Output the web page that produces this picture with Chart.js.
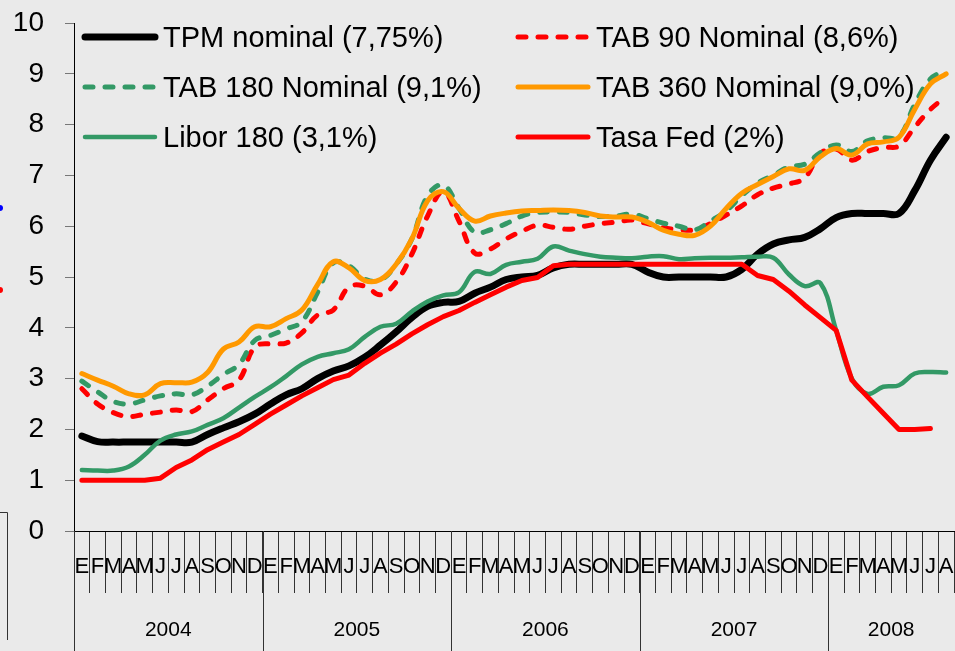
<!DOCTYPE html>
<html lang="es">
<head>
<meta charset="utf-8">
<title>Tasas de interés 2004-2008</title>
<script src="https://cdn.jsdelivr.net/npm/chart.js@4/dist/chart.umd.min.js"></script>
<style>
    html, body {
        margin: 0;
        padding: 0;
        background: #eaeaea;
    }
    .chart-wrap {
        position: relative;
        width: 955px;
        height: 651px;
    }
</style>
</head>
<body>
<div class="chart-wrap">
    <canvas id="ratesChart"></canvas>
</div>
<script>
const months = ['E', 'F', 'M', 'A', 'M', 'J', 'J', 'A', 'S', 'O', 'N', 'D'];
const years = ['2004', '2005', '2006', '2007', '2008'];
const monthsInYear = [12, 12, 12, 12, 8];
const yTicks = [0, 1, 2, 3, 4, 5, 6, 7, 8, 9, 10];

const tpm = [1.87, 1.76, 1.75, 1.75, 1.75, 1.75, 1.75, 1.75, 1.9, 2.03, 2.15, 2.3,
    2.5, 2.68, 2.8, 3.0, 3.15, 3.25, 3.42, 3.66, 3.92, 4.2, 4.42, 4.5,
    4.52, 4.68, 4.8, 4.95, 5.0, 5.03, 5.18, 5.25, 5.25, 5.25, 5.25, 5.25,
    5.1, 5.0, 5.0, 5.0, 5.0, 5.0, 5.15, 5.45, 5.65, 5.73, 5.78, 5.95,
    6.17, 6.25, 6.25, 6.25, 6.25, 6.7, 7.3, 7.75];
const tab90 = [2.8, 2.5, 2.33, 2.25, 2.3, 2.34, 2.38, 2.35, 2.58, 2.8, 2.97, 3.62,
    3.69, 3.7, 3.9, 4.25, 4.35, 4.8, 4.82, 4.65, 4.9, 5.45, 6.2, 6.68,
    6.1, 5.47, 5.55, 5.75, 5.9, 6.02, 5.98, 5.94, 6.0, 6.05, 6.08, 6.12,
    6.05, 5.97, 5.93, 5.93, 6.05, 6.22, 6.4, 6.62, 6.75, 6.83, 6.95, 7.43,
    7.52, 7.3, 7.47, 7.55, 7.58, 7.95, 8.3, 8.55];
const tab180 = [2.95, 2.74, 2.55, 2.5, 2.58, 2.66, 2.7, 2.68, 2.85, 3.08, 3.28, 3.75,
    3.85, 3.98, 4.12, 4.7, 5.28, 5.22, 4.96, 4.94, 5.25, 5.75, 6.6, 6.81,
    6.35, 5.88, 5.93, 6.05, 6.2, 6.27, 6.28, 6.27, 6.22, 6.19, 6.2, 6.24,
    6.15, 6.06, 6.0, 5.93, 6.1, 6.3, 6.6, 6.85, 7.0, 7.17, 7.22, 7.45,
    7.6, 7.47, 7.68, 7.74, 7.76, 8.4, 8.9, 9.07];
const tab360 = [3.1, 2.97, 2.85, 2.7, 2.68, 2.9, 2.92, 2.93, 3.12, 3.58, 3.72, 4.02,
    4.02, 4.18, 4.35, 4.85, 5.3, 5.18, 4.93, 4.95, 5.25, 5.75, 6.5, 6.68,
    6.35, 6.1, 6.2, 6.26, 6.3, 6.31, 6.32, 6.31, 6.27, 6.2, 6.18, 6.18,
    6.08, 5.92, 5.84, 5.82, 6.0, 6.35, 6.65, 6.82, 6.98, 7.13, 7.1, 7.37,
    7.53, 7.4, 7.62, 7.66, 7.75, 8.3, 8.8, 9.0];
const libor180 = [1.2, 1.19, 1.19, 1.27, 1.5, 1.78, 1.9, 1.96, 2.09, 2.22, 2.43, 2.64,
    2.83, 3.05, 3.28, 3.43, 3.5, 3.58, 3.82, 4.02, 4.08, 4.32, 4.52, 4.64,
    4.7, 5.1, 5.06, 5.24, 5.3, 5.36, 5.6, 5.52, 5.45, 5.4, 5.38, 5.37,
    5.4, 5.41, 5.35, 5.37, 5.38, 5.38, 5.39, 5.4, 5.38, 5.05, 4.82, 4.88,
    3.95, 3.0, 2.7, 2.84, 2.87, 3.1, 3.13, 3.12];
const fed = [1.0, 1.0, 1.0, 1.0, 1.0, 1.04, 1.25, 1.4, 1.6, 1.75, 1.9, 2.1,
    2.3, 2.48, 2.66, 2.82, 2.98, 3.07, 3.3, 3.5, 3.68, 3.88, 4.06, 4.22,
    4.34, 4.5, 4.65, 4.8, 4.93, 4.99, 5.22, 5.25, 5.25, 5.25, 5.25, 5.25,
    5.25, 5.25, 5.25, 5.25, 5.25, 5.25, 5.25, 5.03, 4.95, 4.72, 4.45, 4.2,
    3.95, 2.97, 2.64, 2.32, 2.0, 2.0, 2.02, null];

const monthLabels = [];
monthsInYear.forEach(count => {
    for (let m = 0; m < count; m++) monthLabels.push(months[m]);
});

const FONT = '"Liberation Sans", Arial, sans-serif';
const GREEN = '#339966';
const RED = '#ff0000';
const ORANGE = '#ff9900';

// legend drawn inside the plot, two columns like the original
const insideLegend = {
    id: 'insideLegend',
    afterDraw(chart) {
        const ctx = chart.ctx;
        const colX = [85, 518];
        ctx.save();
        ctx.font = '29px ' + FONT;
        ctx.textBaseline = 'middle';
        ctx.fillStyle = '#000';
        chart.data.datasets.forEach((ds, i) => {
            const x = colX[i % 2];
            const y = 37 + Math.floor(i / 2) * 50;
            ctx.strokeStyle = ds.borderColor;
            ctx.lineWidth = ds.borderWidth;
            ctx.lineCap = 'round';
            ctx.setLineDash(ds.borderDash || []);
            ctx.beginPath();
            ctx.moveTo(x, y);
            ctx.lineTo(x + 70, y);
            ctx.stroke();
            ctx.setLineDash([]);
            ctx.fillText(ds.label, x + 78, y + 2);
        });
        ctx.restore();
    }
};

// year row under the month letters
const yearAxis = {
    id: 'yearAxis',
    afterDraw(chart) {
        const ctx = chart.ctx;
        const xs = chart.scales.x;
        const w = xs.width / monthLabels.length;
        ctx.save();
        ctx.strokeStyle = '#333';
        ctx.lineWidth = 1;
        ctx.font = '21px ' + FONT;
        ctx.fillStyle = '#000';
        ctx.textAlign = 'center';
        ctx.textBaseline = 'middle';
        let start = 0;
        years.forEach((yr, i) => {
            const x = Math.round(xs.left + start * w) + 0.5;
            ctx.beginPath();
            ctx.moveTo(x, xs.top);
            ctx.lineTo(x, chart.height);
            ctx.stroke();
            ctx.fillText(yr, xs.left + (start + monthsInYear[i] / 2) * w, 630);
            start += monthsInYear[i];
        });
        ctx.restore();
    }
};

// bits of the neighbouring chart visible at the left edge
const leftEdge = {
    id: 'leftEdge',
    afterDraw(chart) {
        const ctx = chart.ctx;
        ctx.save();
        ctx.fillStyle = '#0000ff';
        ctx.beginPath();
        ctx.arc(0, 208, 3, 0, Math.PI * 2);
        ctx.fill();
        ctx.fillStyle = RED;
        ctx.beginPath();
        ctx.arc(0, 290, 3, 0, Math.PI * 2);
        ctx.fill();
        ctx.strokeStyle = '#333';
        ctx.lineWidth = 1;
        ctx.beginPath();
        ctx.moveTo(0, 512.5);
        ctx.lineTo(7.5, 512.5);
        ctx.lineTo(7.5, 640);
        ctx.stroke();
        ctx.restore();
    }
};

const line = (label, data, color, width, dash, order, tension) => ({
    label,
    data,
    borderColor: color,
    backgroundColor: color,
    borderWidth: width,
    borderDash: dash,
    borderCapStyle: 'round',
    borderJoinStyle: 'round',
    pointRadius: 0,
    tension,
    order,
    fill: false
});

const setupRatesChart = () => {
    const ctx = document.getElementById('ratesChart')?.getContext('2d');
    if (!ctx) return;

    new Chart(ctx, {
        type: 'line',
        data: {
            labels: monthLabels,
            datasets: [
                line('TPM nominal (7,75%)', tpm, '#000000', 7, [], 4, 0.4),
                line('TAB 90 Nominal (8,6%)', tab90, RED, 5, [8, 12], 5, 0.4),
                line('TAB 180 Nominal (9,1%)', tab180, GREEN, 5, [8, 12], 3, 0.4),
                line('TAB 360 Nominal (9,0%)', tab360, ORANGE, 5, [], 2, 0.4),
                line('Libor 180 (3,1%)', libor180, GREEN, 4.5, [], 1, 0.4),
                line('Tasa Fed (2%)', fed, RED, 5, [], 0, 0)
            ]
        },
        options: {
            responsive: true,
            maintainAspectRatio: false,
            animation: false,
            layout: {
                padding: { top: 23, right: 1, left: 0, bottom: 0 }
            },
            plugins: {
                legend: { display: false },
                tooltip: { enabled: false }
            },
            scales: {
                x: {
                    offset: true,
                    afterFit: scale => { scale.height = 120; },
                    grid: {
                        offset: true,
                        drawOnChartArea: false,
                        drawTicks: true,
                        tickLength: 62,
                        color: '#333'
                    },
                    border: { display: true, color: '#000' },
                    ticks: {
                        autoSkip: false,
                        maxRotation: 0,
                        minRotation: 0,
                        padding: -39,
                        color: '#000',
                        font: { family: FONT, size: 22 }
                    }
                },
                y: {
                    min: yTicks[0],
                    max: yTicks[yTicks.length - 1],
                    afterFit: scale => {
                        scale.width = 74;
                        scale.paddingTop = 0;
                        scale.paddingBottom = 0;
                    },
                    afterBuildTicks: scale => {
                        scale.ticks = yTicks.map(v => ({ value: v }));
                    },
                    grid: {
                        drawOnChartArea: false,
                        drawTicks: true,
                        tickLength: 9,
                        color: '#777'
                    },
                    border: { display: true, color: '#000' },
                    ticks: {
                        padding: 21,
                        color: '#000',
                        font: { family: FONT, size: 28 }
                    }
                }
            }
        },
        plugins: [insideLegend, yearAxis, leftEdge]
    });
};

document.addEventListener('DOMContentLoaded', function() {
    setupRatesChart();
});
</script>
</body>
</html>
